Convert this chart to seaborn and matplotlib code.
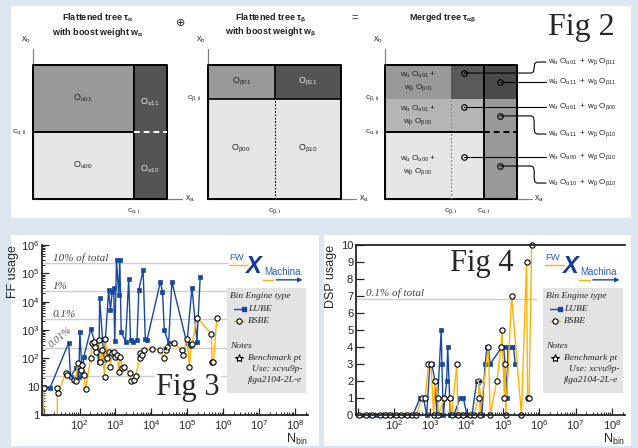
import numpy as np
import matplotlib
matplotlib.use("Agg")
import matplotlib.pyplot as plt
import matplotlib.transforms as mtransforms
from matplotlib.patches import Rectangle
from matplotlib.lines import Line2D
from matplotlib.ticker import FuncFormatter, LogLocator, NullFormatter, MultipleLocator
import seaborn as sns

# ---------------- Fig 2: flattened / merged trees ----------------
c_alpha = (0.75, 0.5)          # c_alpha,i (x cut), c_alpha,ii (y cut)
c_beta = (0.5, 0.75)           # c_beta,i, c_beta,ii
# cell shades (0 = black, 1 = white), rows bottom -> top
alpha_shade = [[0.90, 0.33], [0.60, 0.33]]
beta_shade = [[0.90, 0.90], [0.60, 0.33]]
merged_shade = [[0.90, 0.90, 0.60], [0.71, 0.71, 0.60], [0.60, 0.35, 0.29]]
merged_terms = [("α01", "β11"), ("α11", "β11"), ("α01", "β00"),
                ("α11", "β10"), ("α00", "β10"), ("α10", "β10")]

# ---------------- Fig 3: FF usage ----------------
ff_total = 2364480
ff_fracs = [0.1, 0.01, 0.001, 0.0001, 0.00001]
ff_frac_labels = ["10% of total", "1%", "0.1%", "0.01%"]
lube_ff_nbin = [10, 15, 50, 56, 78, 95, 102, 117, 132, 204, 269, 347, 363, 479, 646, 724, 813,
                891, 955, 1070, 1230, 1320, 1445, 1905, 2340, 2630, 3090, 3980, 4470, 5890, 6760,
                7590, 17800, 20400, 22900, 30200, 37200, 97700, 135000, 186000, 229000]
lube_ff = [10, 9, 355, 22, 45, 22, 870, 34, 115, 1050, 390, 76, 13200, 87, 25700, 5100, 22400,
           29500, 400, 295000, 17400, 295000, 870, 390, 61700, 450, 390, 450, 25700, 132000, 500,
           450, 50100, 22400, 1000, 340, 50100, 340, 31600, 390, 75900]
bsbe_ff_nbin = [10, 16, 24, 25, 41, 46, 72, 78, 89, 107, 117, 132, 148, 204, 224, 251, 275, 295,
                347, 380, 427, 501, 525, 589, 646, 724, 813, 891, 1000, 1120, 1230, 1380, 1550,
                1700, 2510, 2750, 3240, 3630, 4790, 4900, 5500, 6170, 10500, 17800, 21900, 25700,
                27500, 41700, 70800, 75900, 97700, 115000, 126000, 135000, 186000, 468000,
                490000, 537000, 661000]
bsbe_ff = [9, 0, 9, 6, 30, 26, 17, 16, 66, 39, 58, 26, 8, 100, 340, 390, 257, 174, 450, 76, 195,
           22, 500, 100, 174, 50, 150, 174, 112, 132, 34, 115, 45, 50, 30, 16, 17, 24, 100, 150,
           132, 195, 209, 195, 100, 195, 257, 340, 200, 126, 500, 48, 295, 316, 2750, 724, 76,
           76, 2570]

# ---------------- Fig 4: DSP usage ----------------
dsp_total = 6840
lube_dsp_nbin = [10, 15, 21, 32, 50, 68, 93, 129, 178, 245, 331, 525, 646, 794, 977, 1100, 1350,
                 1510, 2000, 2090, 2290, 2820, 3020, 3550, 4470, 6610, 8130, 10200, 14100, 19100,
                 21400, 26300, 32400, 36300, 39800, 44700, 93300, 104700, 114800, 128800, 138000,
                 158500, 195000, 218800]
lube_dsp = [0, 0, 0, 0, 0, 0, 0, 0, 0, 0, 0, 1, 1, 0, 3, 3, 2, 0, 5, 3, 0, 2, 4, 0, 0, 1, 1, 0,
            0, 2, 2, 0, 3, 4, 4, 3, 4, 4, 3, 1, 4, 4, 4, 3]
bsbe_dsp_nbin = [11, 17, 25, 40, 56, 79, 112, 158, 224, 316, 417, 575, 724, 891, 1050, 1230, 1350,
                 1620, 1660, 2450, 3390, 3890, 5370, 5750, 7940, 12600, 15800, 21400, 22400,
                 23400, 39800, 44700, 67600, 89100, 93300, 109600, 114800, 120200, 173800,
                 323600, 446700, 478600, 524800, 616600]
bsbe_dsp = [0, 0, 0, 0, 0, 0, 0, 0, 0, 0, 0, 1, 1, 3, 3, 0, 2, 1, 0, 1, 1, 0, 3, 0, 0, 0, 0, 1,
            2, 0, 4, 0, 2, 4, 5, 1, 3, 0, 7, 0, 9, 1, 1, 10]
bench_nbin = [23400]
bench_ff = [230]
bench_dsp = [2]

BLUE = "#1547a3"
ORANGE = "#ffb300"
BG = "#dde6f0"

sns.set_style("ticks")
plt.rcParams["font.family"] = ["Liberation Sans", "DejaVu Sans"]
plt.rcParams["mathtext.fontset"] = "custom"
plt.rcParams["mathtext.rm"] = "Liberation Sans"
plt.rcParams["mathtext.it"] = "Liberation Sans:italic"
plt.rcParams["mathtext.bf"] = "Liberation Sans:bold"
plt.rcParams["mathtext.default"] = "regular"

W, H = 638, 448
fig = plt.figure(figsize=(W / 100, H / 100), dpi=100, facecolor=BG)


def fbox(x0, y0, x1, y1):
    return [x0 / W, 1 - y1 / H, (x1 - x0) / W, (y1 - y0) / H]


for x0, y0, x1, y1 in [(11, 6, 631, 218), (11, 235, 319, 446), (324, 235, 631, 446)]:
    fig.add_artist(Rectangle((x0 / W, 1 - y1 / H), (x1 - x0) / W, (y1 - y0) / H,
                             transform=fig.transFigure, fc="white", ec="none", zorder=-5))

SERIF = ["Liberation Serif", "DejaVu Serif"]


def tree_axes(x0, x1):
    ax = fig.add_axes(fbox(x0, 65, x1, 199))
    ax.set_xlim(0, 1)
    ax.set_ylim(0, 1)
    ax.axis("off")
    return ax


def draw_frame(ax, xs, ys, shade):
    ax.pcolormesh(xs, ys, np.array(shade), cmap="gray", vmin=0, vmax=1, shading="flat")
    ax.plot([0, 0], [0, 1.12], color="#808080", lw=0.9, clip_on=False)
    ax.plot([0, 1.11], [0, 0], color="#808080", lw=0.9, clip_on=False)
    ax.plot([0, 1, 1, 0, 0], [0, 0, 1, 1, 0], color="black", lw=1.4, clip_on=False)
    ax.text(-0.05, 1.19, "$x_b$", fontsize=6.5, ha="center", va="center", color="#333")
    ax.text(1.17, 0.0, "$x_a$", fontsize=6.5, ha="center", va="center", color="#333")


small = dict(fontsize=6, color="#333", ha="center", va="center")
cell = dict(fontsize=6.5, color="#222", ha="center", va="center")
title = dict(fontsize=6.5, fontweight="bold", ha="center", va="center", color="#222")

# alpha tree
ax_a = tree_axes(33, 167)
ci, cii = c_alpha
draw_frame(ax_a, [0, ci, 1], [0, cii, 1], alpha_shade)
ax_a.plot([ci, ci], [0, 1], color="black", lw=1.4)
ax_a.plot([0, ci], [cii, cii], color="black", lw=1.4)
ax_a.plot([ci, 1], [cii, cii], color="white", lw=1.4, ls=(0, (3, 2)))
ax_a.text(ci / 2, (1 + cii) / 2, r"$O_{\alpha01}$", **cell)
ax_a.text(ci / 2, cii / 2, r"$O_{\alpha00}$", **cell)
ax_a.text((1 + ci) / 2, (1 + cii) / 2 - 0.03, r"$O_{\alpha11}$", **{**cell, "color": "#e8e8e8"})
ax_a.text((1 + ci) / 2, cii / 2 - 0.03, r"$O_{\alpha10}$", **{**cell, "color": "#e8e8e8"})
ax_a.text(-0.1, cii, r"$c_{\alpha,ii}$", **small)
ax_a.text(ci, -0.09, r"$c_{\alpha,i}$", **small)
ax_a.text(0.485, 1.35, "Flattened tree τ$_α$", **title)
ax_a.text(0.485, 1.24, "with boost weight w$_α$", **title)
ax_a.text(1.10, 1.31, "⊕", fontsize=8, ha="center", va="center", family=["DejaVu Sans"])

# beta tree
ax_b = tree_axes(208, 341)
bi, bii = c_beta
draw_frame(ax_b, [0, bi, 1], [0, bii, 1], beta_shade)
ax_b.plot([0, 1], [bii, bii], color="black", lw=1.2)
ax_b.plot([bi, bi], [bii, 1], color="black", lw=1.2)
ax_b.plot([bi, bi], [0, bii], color="black", lw=0.8, ls=(0, (1.5, 1.5)))
ax_b.text(bi / 2, (1 + bii) / 2, r"$O_{\beta01}$", **cell)
ax_b.text((1 + bi) / 2, (1 + bii) / 2, r"$O_{\beta11}$", **{**cell, "color": "#e8e8e8"})
ax_b.text(bi / 2, bii / 2, r"$O_{\beta00}$", **cell)
ax_b.text((1 + bi) / 2, bii / 2, r"$O_{\beta10}$", **cell)
ax_b.text(-0.1, bii, r"$c_{\beta,ii}$", **small)
ax_b.text(bi, -0.09, r"$c_{\beta,i}$", **small)
ax_b.text(0.47, 1.35, "Flattened tree τ$_β$", **title)
ax_b.text(0.47, 1.24, "with boost weight w$_β$", **title)
ax_b.text(1.105, 1.35, "=", fontsize=8, ha="center", va="center")

# merged tree
ax_m = tree_axes(385, 517)
xs_m = sorted([0, bi, ci, 1])
ys_m = sorted([0, cii, bii, 1])
draw_frame(ax_m, xs_m, ys_m, merged_shade)
ax_m.plot([ci, ci], [0, 1], color="black", lw=1.4)
ax_m.plot([bi, bi], [0, bii], color="#888", lw=1.0, ls=(0, (1.2, 1.5)))
ax_m.plot([0, ci], [cii, cii], color="black", lw=1.4)
ax_m.plot([ci, 1], [cii, cii], color="black", lw=1.4, ls=(0, (3, 2)))
for yc, (a, b) in zip([(1 + bii) / 2, (cii + bii) / 2, cii / 2],
                      [("α01", "β01"), ("α01", "β00"), ("α00", "β00")]):
    ax_m.text(bi / 2, yc, f"$w_α\\ O_{{{a}}}$ +\n$w_β\\ O_{{{b}}}$", fontsize=5.8,
              color="#222", ha="center", va="center", linespacing=1.3)
ax_m.text(-0.1, bii, r"$c_{\beta,ii}$", **small)
ax_m.text(-0.1, cii, r"$c_{\alpha,ii}$", **small)
ax_m.text(bi, -0.09, r"$c_{\beta,i}$", **small)
ax_m.text(ci, -0.09, r"$c_{\alpha,i}$", **small)
ax_m.text(0.44, 1.35, "Merged tree τ$_{αβ}$", **title)

circ_x = [0.6, 0.87, 0.6, 0.87, 0.6, 0.87]
circ_y = [0.94, 0.873, 0.687, 0.62, 0.313, 0.246]
lab_y = [1.022, 0.873, 0.687, 0.485, 0.313, 0.119]
for cx, cy, ly, (a, b) in zip(circ_x, circ_y, lab_y, merged_terms):
    if abs(ly - cy) < 0.01:
        px, py = [cx, 1.22], [cy, cy]
    else:
        s = np.sign(ly - cy)
        px = [cx, 1.11, 1.125, 1.13, 1.13, 1.135, 1.15, 1.22]
        py = [cy, cy, cy + 0.01 * s, cy + 0.04 * s, ly - 0.04 * s, ly - 0.01 * s, ly, ly]
    ax_m.plot(px, py, color="black", lw=0.8, clip_on=False, zorder=3)
    ax_m.plot([cx], [cy], marker="o", ms=4, mfc="none", mec="black", mew=0.8, zorder=4)
    ax_m.text(1.235, ly, f"$w_α\\ O_{{{a}}}\\ +\\ w_β\\ O_{{{b}}}$", fontsize=5.8,
              color="#222", ha="left", va="center")

fig.text(581 / W, 1 - 27 / H, "Fig 2", fontsize=23, family=SERIF, ha="center", va="center")


# ---------------- bottom charts ----------------
def logo(ax):
    t = ax.transAxes
    ax.text(0.703, 0.925, "FW", transform=t, fontsize=6.8, color="#2a5cc0", ha="left", va="center")
    ax.text(0.765, 0.875, "X", transform=t, fontsize=17, fontweight="bold", fontstyle="italic",
            color="#123a9a", ha="left", va="center")
    ax.text(0.835, 0.84, "Machina", transform=t, fontsize=7, color="#2a5cc0", ha="left", va="center")
    ax.add_line(Line2D([0.703, 0.775], [0.885, 0.885], transform=t, color=ORANGE, lw=1))
    ax.add_line(Line2D([0.83, 0.87], [0.795, 0.795], transform=t, color=ORANGE, lw=1))
    ax.annotate("", xy=(0.99, 0.795), xytext=(0.87, 0.795), xycoords=t,
                arrowprops=dict(arrowstyle="-|>", color=BLUE, lw=1, mutation_scale=6))


def legend_box(ax):
    t = ax.transAxes
    ax.add_patch(Rectangle((0.697, 0.129), 0.295, 0.618, transform=t, fc="#e3e3e3", ec="none", zorder=5))
    it = dict(transform=t, fontsize=6.8, fontstyle="italic", family=SERIF, va="center", zorder=6)
    ax.text(0.707, 0.70, "Bin Engine type", **it)
    ax.add_line(Line2D([0.72, 0.76], [0.624, 0.624], transform=t, color=BLUE, lw=1, marker="s",
                       ms=3.2, markevery=[1], zorder=6))
    ax.add_line(Line2D([0.72, 0.76], [0.553, 0.553], transform=t, color=ORANGE, lw=1, zorder=6))
    ax.add_line(Line2D([0.74], [0.553], transform=t, marker="o", ms=3.8, mfc="white", mec="black",
                       mew=0.8, zorder=7))
    ax.text(0.774, 0.624, "LUBE", **it)
    ax.text(0.774, 0.553, "BSBE", **it)
    ax.text(0.707, 0.406, "Notes", **it)
    ax.add_line(Line2D([0.74], [0.335], transform=t, marker="*", ms=6, mfc="white", mec="black",
                       mew=0.8, zorder=7))
    ax.text(0.774, 0.335, "Benchmark pt", **it)
    ax.text(0.79, 0.27, "Use: xcvu9p-", **it)
    ax.text(0.774, 0.206, "flga2104-2L-e", **it)


def style_axes(ax):
    ax.set_xscale("log")
    ax.set_xlim(9, 2.3e8)
    ax.xaxis.set_major_locator(LogLocator(base=10, numticks=12))
    ax.xaxis.set_minor_locator(LogLocator(base=10, subs=np.arange(2, 10), numticks=12))
    ax.xaxis.set_major_formatter(FuncFormatter(
        lambda v, p: f"$10^{{{int(round(np.log10(v)))}}}$" if v >= 99 else ""))
    ax.xaxis.set_minor_formatter(NullFormatter())
    ax.tick_params(which="both", direction="in", top=False, right=False, labelsize=8, pad=2)
    ax.tick_params(which="major", length=5, width=0.9)
    ax.tick_params(which="minor", length=2.5, width=0.7)
    ax.spines["right"].set_visible(False)
    for s in ["left", "bottom", "top"]:
        ax.spines[s].set_linewidth(1.3)
    ax.set_xlabel("$N_{bin}$", fontsize=9, loc="right", labelpad=0)
    ax.set_facecolor("white")


def draw_series(ax, xl, yl, xb, yb, yben, clip):
    sns.lineplot(x=xl, y=yl, ax=ax, color=BLUE, marker="s", markersize=3.2, mec=BLUE, mew=0.5,
                 lw=1.0, estimator=None, sort=False, clip_on=clip)
    sns.lineplot(x=xb, y=yb, ax=ax, color=ORANGE, marker="o", markersize=3.8, mec="black",
                 mfc="white", mew=0.8, lw=1.0, estimator=None, sort=False, clip_on=clip)
    sns.scatterplot(x=bench_nbin, y=yben, ax=ax, marker="*", s=35, color="black", zorder=4)


# Fig 3
ax3 = fig.add_axes(fbox(42, 245, 308, 415))
draw_series(ax3, lube_ff_nbin, lube_ff, bsbe_ff_nbin, bsbe_ff, bench_ff, True)
style_axes(ax3)
ax3.set_yscale("log")
ax3.set_ylim(1, 1e6)
ax3.yaxis.set_major_locator(LogLocator(base=10, numticks=10))
ax3.yaxis.set_minor_locator(LogLocator(base=10, subs=np.arange(2, 10), numticks=10))
ax3.yaxis.set_major_formatter(FuncFormatter(
    lambda v, p: "1" if v < 2 else ("10" if v < 20 else f"$10^{{{int(round(np.log10(v)))}}}$")))
ax3.yaxis.set_minor_formatter(NullFormatter())
ax3.tick_params(which="both", direction="in")
ax3.spines["top"].set_visible(False)
ax3.set_ylabel("FF usage", fontsize=9, loc="top", labelpad=1)
bt3 = mtransforms.blended_transform_factory(ax3.transAxes, ax3.transData)
for frac in ff_fracs:
    ax3.axhline(ff_total * frac, xmax=0.70, color="#cccccc", lw=1.0, zorder=0)
for frac, lab in zip(ff_fracs[:3], ff_frac_labels[:3]):
    ax3.text(0.04, ff_total * frac * 1.5, lab, transform=bt3, fontsize=8, fontstyle="italic",
             family=SERIF, color="#444", va="center", ha="left")
ax3.text(0.07, ff_total * ff_fracs[3] * 2.4, ff_frac_labels[3], transform=bt3, fontsize=7.5,
         fontstyle="italic", family=SERIF, color="#555", va="center", ha="center", rotation=40)
ax3.text(0.549, 0.159, "Fig 3", transform=ax3.transAxes, fontsize=22, family=SERIF,
         ha="center", va="center", zorder=8,
         bbox=dict(fc="white", ec="none", pad=1))
logo(ax3)
legend_box(ax3)

# Fig 4
ax4 = fig.add_axes(fbox(356, 245, 625, 415))
draw_series(ax4, lube_dsp_nbin, lube_dsp, bsbe_dsp_nbin, bsbe_dsp, bench_dsp, False)
style_axes(ax4)
ax4.set_ylim(0, 10)
ax4.yaxis.set_major_locator(MultipleLocator(1))
ax4.tick_params(axis="y", which="major", length=6)
ax4.set_ylabel("DSP usage", fontsize=9, loc="top", labelpad=3)
ax4.axhline(dsp_total * 0.001, xmax=0.67, color="#cccccc", lw=1.0, zorder=0)
ax4.text(0.037, dsp_total * 0.001 + 0.3, "0.1% of total", transform=mtransforms.blended_transform_factory(
    ax4.transAxes, ax4.transData), fontsize=8, fontstyle="italic", family=SERIF, color="#444",
    va="center", ha="left")
ax4.text(0.468, 0.894, "Fig 4", transform=ax4.transAxes, fontsize=22, family=SERIF,
         ha="center", va="center", zorder=8)
logo(ax4)
legend_box(ax4)
for a in (ax3, ax4):
    lg = a.get_legend()
    if lg is not None:
        lg.remove()

fig.savefig("out.png", dpi=100, facecolor=BG)
